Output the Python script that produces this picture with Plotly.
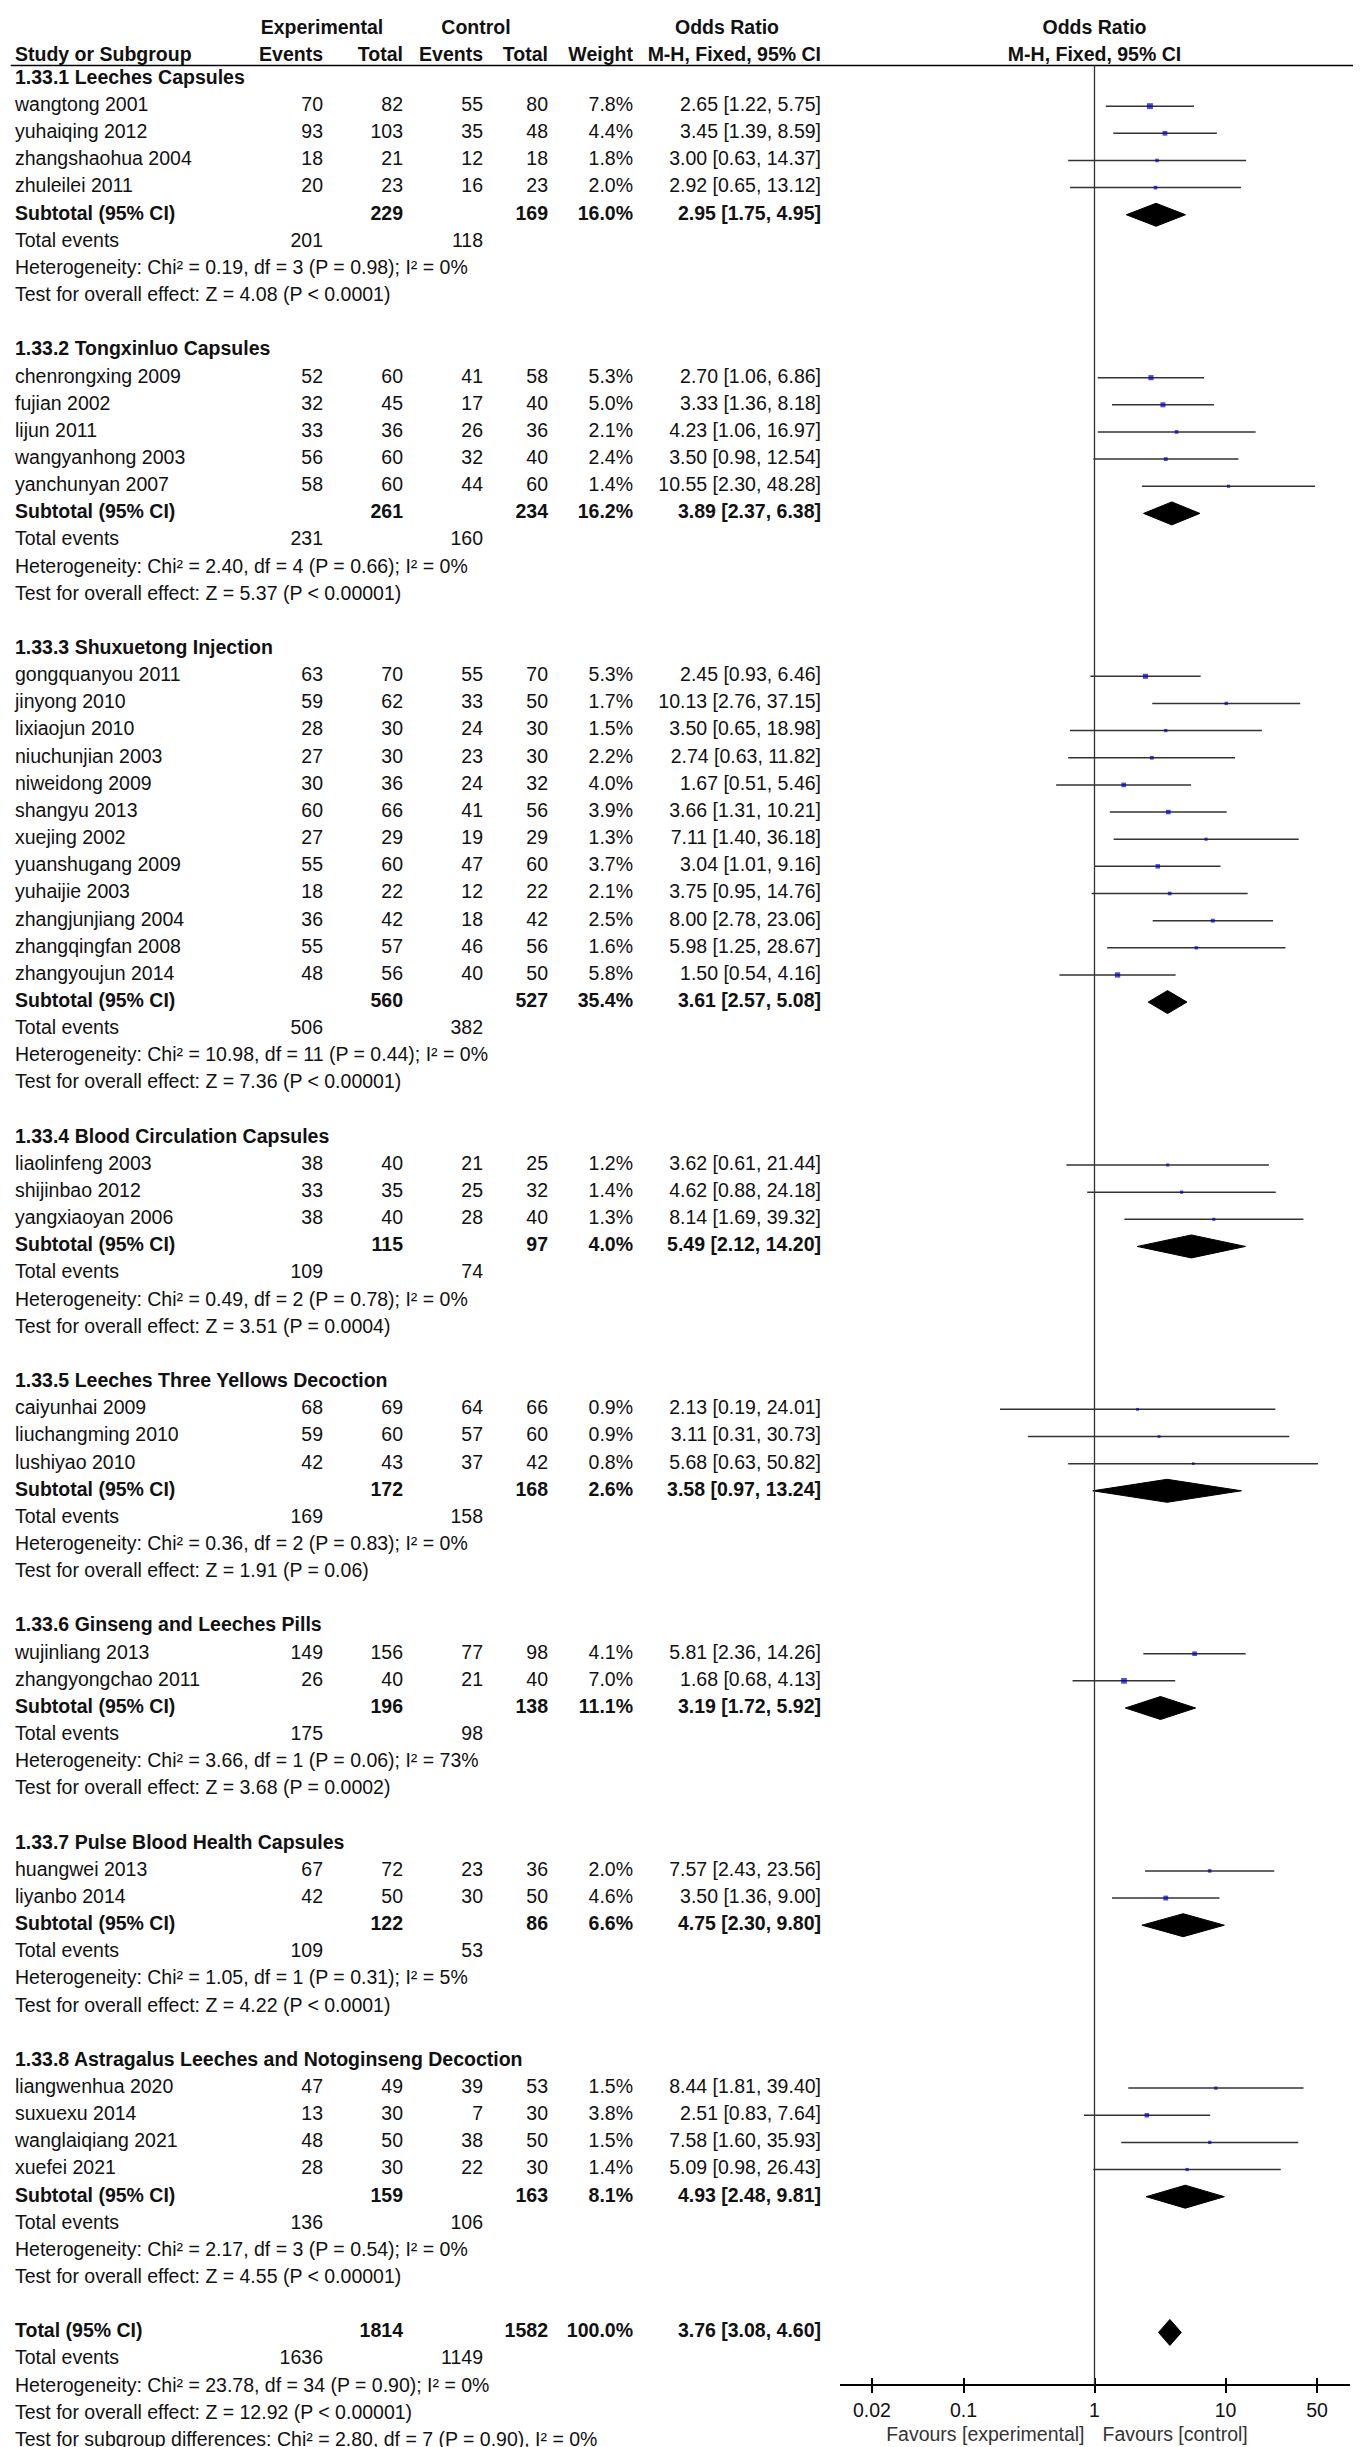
import math
import plotly.graph_objects as go

# ---------------- data ----------------
group_titles = [
    "1.33.1 Leeches Capsules",
    "1.33.2 Tongxinluo Capsules",
    "1.33.3 Shuxuetong Injection",
    "1.33.4 Blood Circulation Capsules",
    "1.33.5 Leeches Three Yellows Decoction",
    "1.33.6 Ginseng and Leeches Pills",
    "1.33.7 Pulse Blood Health Capsules",
    "1.33.8 Astragalus Leeches and Notoginseng Decoction",
]
group_sizes = [4, 5, 12, 3, 3, 2, 2, 4]

study_names = [
    "wangtong 2001", "yuhaiqing 2012", "zhangshaohua 2004", "zhuleilei 2011",
    "chenrongxing 2009", "fujian 2002", "lijun 2011", "wangyanhong 2003", "yanchunyan 2007",
    "gongquanyou 2011", "jinyong 2010", "lixiaojun 2010", "niuchunjian 2003", "niweidong 2009",
    "shangyu 2013", "xuejing 2002", "yuanshugang 2009", "yuhaijie 2003", "zhangjunjiang 2004",
    "zhangqingfan 2008", "zhangyoujun 2014",
    "liaolinfeng 2003", "shijinbao 2012", "yangxiaoyan 2006",
    "caiyunhai 2009", "liuchangming 2010", "lushiyao 2010",
    "wujinliang 2013", "zhangyongchao 2011",
    "huangwei 2013", "liyanbo 2014",
    "liangwenhua 2020", "suxuexu 2014", "wanglaiqiang 2021", "xuefei 2021",
]
exp_events = [70, 93, 18, 20, 52, 32, 33, 56, 58, 63, 59, 28, 27, 30, 60, 27, 55, 18, 36, 55, 48,
              38, 33, 38, 68, 59, 42, 149, 26, 67, 42, 47, 13, 48, 28]
exp_totals = [82, 103, 21, 23, 60, 45, 36, 60, 60, 70, 62, 30, 30, 36, 66, 29, 60, 22, 42, 57, 56,
              40, 35, 40, 69, 60, 43, 156, 40, 72, 50, 49, 30, 50, 30]
ctrl_events = [55, 35, 12, 16, 41, 17, 26, 32, 44, 55, 33, 24, 23, 24, 41, 19, 47, 12, 18, 46, 40,
               21, 25, 28, 64, 57, 37, 77, 21, 23, 30, 39, 7, 38, 22]
ctrl_totals = [80, 48, 18, 23, 58, 40, 36, 40, 60, 70, 50, 30, 30, 32, 56, 29, 60, 22, 42, 56, 50,
               25, 32, 40, 66, 60, 42, 98, 40, 36, 50, 53, 30, 50, 30]
weights = [7.8, 4.4, 1.8, 2.0, 5.3, 5.0, 2.1, 2.4, 1.4, 5.3, 1.7, 1.5, 2.2, 4.0, 3.9, 1.3, 3.7, 2.1,
           2.5, 1.6, 5.8, 1.2, 1.4, 1.3, 0.9, 0.9, 0.8, 4.1, 7.0, 2.0, 4.6, 1.5, 3.8, 1.5, 1.4]
odds_ratios = [2.65, 3.45, 3.00, 2.92, 2.70, 3.33, 4.23, 3.50, 10.55, 2.45, 10.13, 3.50, 2.74, 1.67,
               3.66, 7.11, 3.04, 3.75, 8.00, 5.98, 1.50, 3.62, 4.62, 8.14, 2.13, 3.11, 5.68, 5.81,
               1.68, 7.57, 3.50, 8.44, 2.51, 7.58, 5.09]
ci_lower = [1.22, 1.39, 0.63, 0.65, 1.06, 1.36, 1.06, 0.98, 2.30, 0.93, 2.76, 0.65, 0.63, 0.51,
            1.31, 1.40, 1.01, 0.95, 2.78, 1.25, 0.54, 0.61, 0.88, 1.69, 0.19, 0.31, 0.63, 2.36,
            0.68, 2.43, 1.36, 1.81, 0.83, 1.60, 0.98]
ci_upper = [5.75, 8.59, 14.37, 13.12, 6.86, 8.18, 16.97, 12.54, 48.28, 6.46, 37.15, 18.98, 11.82,
            5.46, 10.21, 36.18, 9.16, 14.76, 23.06, 28.67, 4.16, 21.44, 24.18, 39.32, 24.01, 30.73,
            50.82, 14.26, 4.13, 23.56, 9.00, 39.40, 7.64, 35.93, 26.43]

sub_exp_totals = [229, 261, 560, 115, 172, 196, 122, 159]
sub_ctrl_totals = [169, 234, 527, 97, 168, 138, 86, 163]
sub_weights = [16.0, 16.2, 35.4, 4.0, 2.6, 11.1, 6.6, 8.1]
sub_or = [2.95, 3.89, 3.61, 5.49, 3.58, 3.19, 4.75, 4.93]
sub_lower = [1.75, 2.37, 2.57, 2.12, 0.97, 1.72, 2.30, 2.48]
sub_upper = [4.95, 6.38, 5.08, 14.20, 13.24, 5.92, 9.80, 9.81]
sub_exp_events = [201, 231, 506, 109, 169, 175, 109, 136]
sub_ctrl_events = [118, 160, 382, 74, 158, 98, 53, 106]
sub_heterogeneity = [
    "Heterogeneity: Chi² = 0.19, df = 3 (P = 0.98); I² = 0%",
    "Heterogeneity: Chi² = 2.40, df = 4 (P = 0.66); I² = 0%",
    "Heterogeneity: Chi² = 10.98, df = 11 (P = 0.44); I² = 0%",
    "Heterogeneity: Chi² = 0.49, df = 2 (P = 0.78); I² = 0%",
    "Heterogeneity: Chi² = 0.36, df = 2 (P = 0.83); I² = 0%",
    "Heterogeneity: Chi² = 3.66, df = 1 (P = 0.06); I² = 73%",
    "Heterogeneity: Chi² = 1.05, df = 1 (P = 0.31); I² = 5%",
    "Heterogeneity: Chi² = 2.17, df = 3 (P = 0.54); I² = 0%",
]
sub_overall = [
    "Test for overall effect: Z = 4.08 (P < 0.0001)",
    "Test for overall effect: Z = 5.37 (P < 0.00001)",
    "Test for overall effect: Z = 7.36 (P < 0.00001)",
    "Test for overall effect: Z = 3.51 (P = 0.0004)",
    "Test for overall effect: Z = 1.91 (P = 0.06)",
    "Test for overall effect: Z = 3.68 (P = 0.0002)",
    "Test for overall effect: Z = 4.22 (P < 0.0001)",
    "Test for overall effect: Z = 4.55 (P < 0.00001)",
]

total_exp_total = 1814
total_ctrl_total = 1582
total_weight = 100.0
total_or = 3.76
total_lower = 3.08
total_upper = 4.60
total_exp_events = 1636
total_ctrl_events = 1149
total_heterogeneity = "Heterogeneity: Chi² = 23.78, df = 34 (P = 0.90); I² = 0%"
total_overall = "Test for overall effect: Z = 12.92 (P < 0.00001)"
subgroup_differences = "Test for subgroup differences: Chi² = 2.80, df = 7 (P = 0.90), I² = 0%"

axis_ticks = [0.02, 0.1, 1, 10, 50]
axis_tick_labels = ["0.02", "0.1", "1", "10", "50"]

# ---------------- layout constants (pixels) ----------------
W, H = 1361, 2447
Y0, RH = 71.0, 27.15         # centre of first table row, row height
FONT = "Liberation Sans, Arial, sans-serif"
FS = 19.5
TXT = "#111111"

X_NAME = 7
X_EXP_EV, X_EXP_TOT, X_CTL_EV, X_CTL_TOT, X_WT, X_CI = 315, 395, 475, 540, 625, 813
X_EXP_HDR, X_CTL_HDR, X_OR_HDR = 314, 468, 719
X_ONE_PX, DECADE_PX = 1086.5, 131.0
AX_L_PX, AX_R_PX = 832.0, 1342.0
AXIS_PX = 2376.7
HDR1_PX, HDR2_PX, HLINE_PX, FAV_PX = 21.5, 48.3, 57.5, 2428.0
DIAMOND_HALF_PX = 11.5
TOTAL_DIAMOND_HALF_PX = 13.0


def row_y(px):
    return (px - Y0) / RH


def fmt_ci(o, lo, hi):
    return f"{o:.2f} [{lo:.2f}, {hi:.2f}]"


def bold(s):
    return f"<b>{s}</b>"


# ---------------- build table rows ----------------
left_x, left_y, left_t = [], [], []
right_x, right_y, right_t = [], [], []

study_rows = []
sub_rows = []
r = 0
si = 0
for g, title in enumerate(group_titles):
    left_x.append(X_NAME); left_y.append(r); left_t.append(bold(title))
    r += 1
    for _ in range(group_sizes[g]):
        left_x.append(X_NAME); left_y.append(r); left_t.append(study_names[si])
        for x, v in [(X_EXP_EV, exp_events[si]), (X_EXP_TOT, exp_totals[si]),
                     (X_CTL_EV, ctrl_events[si]), (X_CTL_TOT, ctrl_totals[si]),
                     (X_WT, f"{weights[si]:.1f}%"),
                     (X_CI, fmt_ci(odds_ratios[si], ci_lower[si], ci_upper[si]))]:
            right_x.append(x); right_y.append(r); right_t.append(str(v))
        study_rows.append(r)
        si += 1
        r += 1
    # subtotal
    left_x.append(X_NAME); left_y.append(r); left_t.append(bold("Subtotal (95% CI)"))
    for x, v in [(X_EXP_TOT, sub_exp_totals[g]), (X_CTL_TOT, sub_ctrl_totals[g]),
                 (X_WT, f"{sub_weights[g]:.1f}%"),
                 (X_CI, fmt_ci(sub_or[g], sub_lower[g], sub_upper[g]))]:
        right_x.append(x); right_y.append(r); right_t.append(bold(v))
    sub_rows.append(r)
    r += 1
    left_x.append(X_NAME); left_y.append(r); left_t.append("Total events")
    right_x += [X_EXP_EV, X_CTL_EV]; right_y += [r, r]
    right_t += [str(sub_exp_events[g]), str(sub_ctrl_events[g])]
    r += 1
    left_x.append(X_NAME); left_y.append(r); left_t.append(sub_heterogeneity[g])
    r += 1
    left_x.append(X_NAME); left_y.append(r); left_t.append(sub_overall[g])
    r += 2  # blank line after each subgroup

total_row = r
left_x.append(X_NAME); left_y.append(r); left_t.append(bold("Total (95% CI)"))
for x, v in [(X_EXP_TOT, total_exp_total), (X_CTL_TOT, total_ctrl_total),
             (X_WT, f"{total_weight:.1f}%"),
             (X_CI, fmt_ci(total_or, total_lower, total_upper))]:
    right_x.append(x); right_y.append(r); right_t.append(bold(v))
r += 1
left_x.append(X_NAME); left_y.append(r); left_t.append("Total events")
right_x += [X_EXP_EV, X_CTL_EV]; right_y += [r, r]
right_t += [str(total_exp_events), str(total_ctrl_events)]
r += 1
for s in [total_heterogeneity, total_overall, subgroup_differences]:
    left_x.append(X_NAME); left_y.append(r); left_t.append(s)
    r += 1

# header texts
hdr1 = row_y(HDR1_PX)
hdr2 = row_y(HDR2_PX)
ctr_x = [X_EXP_HDR, X_CTL_HDR, X_OR_HDR, X_ONE_PX, X_ONE_PX]
ctr_y = [hdr1, hdr1, hdr1, hdr1, hdr2]
ctr_t = [bold("Experimental"), bold("Control"), bold("Odds Ratio"), bold("Odds Ratio"),
         bold("M-H, Fixed, 95% CI")]
left_x.append(X_NAME); left_y.append(hdr2); left_t.append(bold("Study or Subgroup"))
for x, v in [(X_EXP_EV, "Events"), (X_EXP_TOT, "Total"), (X_CTL_EV, "Events"),
             (X_CTL_TOT, "Total"), (X_WT, "Weight"), (X_CI, "M-H, Fixed, 95% CI")]:
    right_x.append(x); right_y.append(hdr2); right_t.append(bold(v))

tf = dict(family=FONT, size=FS, color=TXT)
fig = go.Figure()
fig.add_trace(go.Scatter(x=left_x, y=left_y, text=left_t, mode="text",
                         textposition="middle right", textfont=tf,
                         hoverinfo="skip", showlegend=False, xaxis="x", yaxis="y"))
fig.add_trace(go.Scatter(x=right_x, y=right_y, text=right_t, mode="text",
                         textposition="middle left", textfont=tf,
                         hoverinfo="skip", showlegend=False, xaxis="x", yaxis="y"))
fig.add_trace(go.Scatter(x=ctr_x, y=ctr_y, text=ctr_t, mode="text",
                         textposition="middle center", textfont=tf,
                         hoverinfo="skip", showlegend=False, xaxis="x", yaxis="y"))

# favours labels
fav = row_y(FAV_PX)
fig.add_trace(go.Scatter(x=[X_ONE_PX - 10], y=[fav], text=["Favours [experimental]"],
                         mode="text", textposition="middle left",
                         textfont=dict(family=FONT, size=FS, color="#333333"),
                         hoverinfo="skip", showlegend=False, xaxis="x", yaxis="y"))
fig.add_trace(go.Scatter(x=[X_ONE_PX + 8], y=[fav], text=["Favours [control]"],
                         mode="text", textposition="middle right",
                         textfont=dict(family=FONT, size=FS, color="#333333"),
                         hoverinfo="skip", showlegend=False, xaxis="x", yaxis="y"))

# ---------------- forest marks ----------------
lx, ly = [], []
for lo, hi, ry in zip(ci_lower, ci_upper, study_rows):
    lx += [lo, hi, None]
    ly += [ry, ry, None]
fig.add_trace(go.Scatter(x=lx, y=ly, mode="lines", line=dict(color="#333333", width=1.5),
                         hoverinfo="skip", showlegend=False, xaxis="x2", yaxis="y",
                         cliponaxis=False))
fig.add_trace(go.Scatter(x=odds_ratios, y=study_rows, mode="markers",
                         marker=dict(symbol="square", color="#0000C8",
                                     size=[1.7 * math.sqrt(w) + 1.2 for w in weights],
                                     line=dict(width=0)),
                         hoverinfo="skip", showlegend=False, xaxis="x2", yaxis="y",
                         cliponaxis=False))

dx, dy = [], []
dh = DIAMOND_HALF_PX / RH
for o, lo, hi, ry in zip(sub_or, sub_lower, sub_upper, sub_rows):
    dx += [lo, o, hi, o, lo, None]
    dy += [ry, ry - dh, ry, ry + dh, ry, None]
tdh = TOTAL_DIAMOND_HALF_PX / RH
dx += [total_lower, total_or, total_upper, total_or, total_lower]
dy += [total_row, total_row - tdh, total_row, total_row + tdh, total_row]
fig.add_trace(go.Scatter(x=dx, y=dy, mode="lines", fill="toself", fillcolor="black",
                         line=dict(color="black", width=1), hoverinfo="skip",
                         showlegend=False, xaxis="x2", yaxis="y", cliponaxis=False))

# invisible trace so the upper tick axis is drawn
fig.add_trace(go.Scatter(x=[1], y=[total_row], mode="markers", marker=dict(opacity=0, size=1),
                         hoverinfo="skip", showlegend=False, xaxis="x3", yaxis="y"))

# ---------------- axes & layout ----------------
log_lo = (AX_L_PX - X_ONE_PX) / DECADE_PX
log_hi = (AX_R_PX - X_ONE_PX) / DECADE_PX
dom = [AX_L_PX / W, AX_R_PX / W]
axis_pos = 1 - AXIS_PX / H

fig.update_layout(
    width=W, height=H, autosize=False,
    margin=dict(l=0, r=0, t=0, b=0, pad=0),
    paper_bgcolor="white", plot_bgcolor="rgba(0,0,0,0)",
    showlegend=False, hovermode=False,
    xaxis=dict(range=[0, W], domain=[0, 1], visible=False, fixedrange=True),
    yaxis=dict(range=[(H - Y0) / RH, -Y0 / RH], domain=[0, 1], visible=False,
               fixedrange=True),
    xaxis2=dict(type="log", range=[log_lo, log_hi], domain=dom, anchor="free",
                position=axis_pos, showline=True, linecolor="black", linewidth=1.5,
                ticks="outside", ticklen=8, tickwidth=1.5, tickcolor="black",
                tickvals=axis_ticks, ticktext=axis_tick_labels,
                tickfont=dict(family=FONT, size=FS, color=TXT),
                showgrid=False, zeroline=False, fixedrange=True),
    xaxis3=dict(type="log", range=[log_lo, log_hi], domain=dom, anchor="free",
                position=axis_pos, side="top", showline=False,
                ticks="outside", ticklen=7, tickwidth=1.5, tickcolor="black",
                tickvals=axis_ticks, showticklabels=False,
                showgrid=False, zeroline=False, fixedrange=True),
)

hline = row_y(HLINE_PX)
fig.add_shape(type="line", xref="paper", yref="y", x0=0.002, x1=1, y0=hline, y1=hline,
              line=dict(color="black", width=1.5))
fig.add_shape(type="line", xref="x2", yref="y", x0=1, x1=1, y0=hline, y1=row_y(AXIS_PX),
              line=dict(color="#333333", width=1.3))

fig.write_html("out.html")
